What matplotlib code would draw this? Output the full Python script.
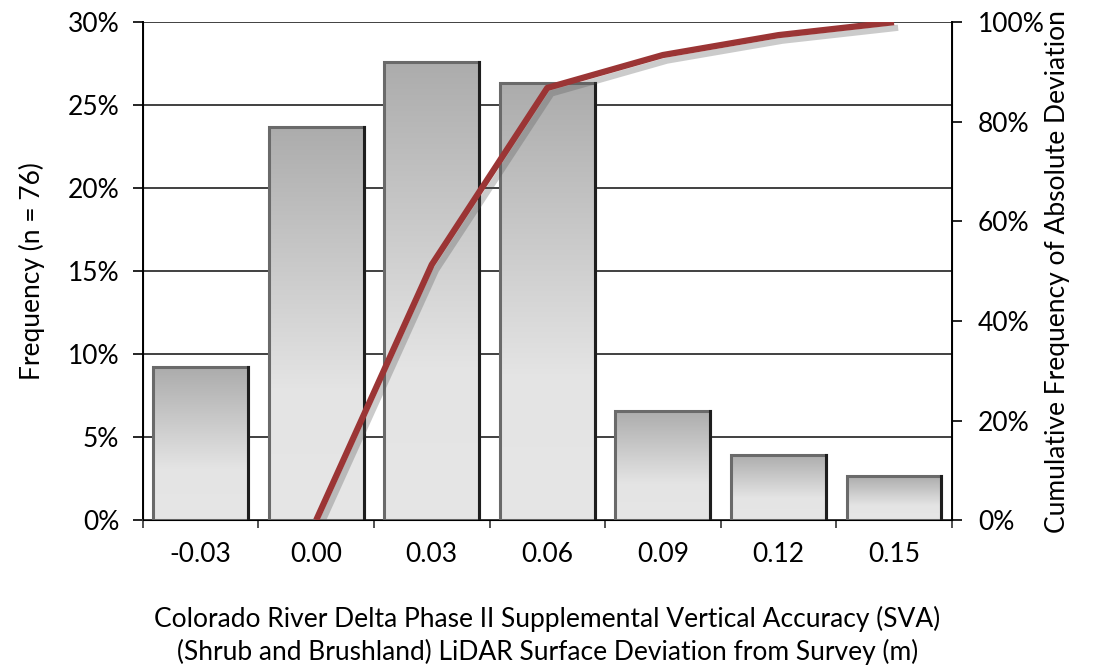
import numpy as np
import matplotlib
matplotlib.use("Agg")
import matplotlib.pyplot as plt
import matplotlib.patheffects as pe
from matplotlib.colors import LinearSegmentedColormap
from matplotlib.ticker import FuncFormatter, MultipleLocator

# data
categories = ["-0.03", "0.00", "0.03", "0.06", "0.09", "0.12", "0.15"]
frequency = [9.21, 23.68, 27.63, 26.32, 6.58, 3.95, 2.63]  # percent
cum_labels = ["0.00", "0.03", "0.06", "0.09", "0.12", "0.15"]
cumulative = [0.0, 51.3, 86.8, 93.4, 97.4, 100.0]  # percent

plt.rcParams['font.family'] = ['Lato', 'DejaVu Sans']

fig = plt.figure(figsize=(10.99, 6.72), dpi=100)
ax1 = fig.add_axes([0.130, 0.226, 0.736, 0.741])

x = np.arange(len(categories))
width = 0.82
bars = ax1.bar(x, frequency, width=width, color="none", edgecolor="none", zorder=3)

# grey gradient fill inside each bar
cmap = LinearSegmentedColormap.from_list("g", ["#e6e6e6", "#e4e4e4", "#c8c8c8", "#acacac"])
grad = np.linspace(0, 1, 256).reshape(-1, 1)
for b in bars:
    x0, y0 = b.get_x(), b.get_y()
    w, h = b.get_width(), b.get_height()
    im = ax1.imshow(grad, cmap=cmap, origin="lower", aspect="auto",
                    extent=(x0, x0 + w, y0, y0 + h), zorder=3)
    im.set_clip_path(b)
    ax1.add_patch(plt.Rectangle((x0, y0), w, h, fill=False, edgecolor="#6a6a6a",
                                linewidth=2.2, zorder=4))
    ax1.plot([x0 + w, x0 + w], [y0, y0 + h], color="#1e1e1e", linewidth=2.2, zorder=4)

ax1.set_xlim(-0.5, len(categories) - 0.5)
ax1.set_ylim(0, 30)
ax1.yaxis.set_major_locator(MultipleLocator(5))
ax1.yaxis.set_major_formatter(FuncFormatter(lambda v, p: f"{v:.0f}%"))
ax1.set_xticks(x)
ax1.set_xticklabels(categories)
ax1.set_xticks(np.arange(-0.5, len(categories)), minor=True)
ax1.tick_params(axis="x", which="major", length=0, pad=16, labelsize=19)
ax1.tick_params(axis="x", which="minor", length=6, width=1.2, color="#333333")
ax1.tick_params(axis="y", length=7, width=1.2, labelsize=19, pad=10)
ax1.grid(axis="y", color="#404040", linewidth=1.4, zorder=0)
ax1.set_axisbelow(True)
ax1.spines["top"].set_visible(False)
ax1.spines["left"].set_linewidth(1.4)
ax1.spines["bottom"].set_linewidth(1.4)
ax1.spines["bottom"].set_color("#404040")

ax1.set_ylabel("Frequency (n = 76)", fontsize=19, labelpad=16)
ax1.set_xlabel("Colorado River Delta Phase II Supplemental Vertical Accuracy (SVA)\n"
               "(Shrub and Brushland) LiDAR Surface Deviation from Survey (m)",
               fontsize=19, labelpad=28, linespacing=1.3)

ax2 = ax1.twinx()
ax2.set_ylim(0, 100)
cx = [categories.index(c) for c in cum_labels]
ax2.plot(cx, cumulative, color="#9b3535", linewidth=4.5, solid_capstyle="butt", zorder=5,
         path_effects=[pe.SimpleLineShadow(offset=(3, -4), shadow_color="#555555", alpha=0.3),
                       pe.Normal()])
ax2.yaxis.set_major_locator(MultipleLocator(20))
ax2.yaxis.set_major_formatter(FuncFormatter(lambda v, p: f"{v:.0f}%"))
ax2.tick_params(axis="y", length=7, width=1.2, labelsize=19, pad=12)
ax2.spines["top"].set_visible(False)
ax2.spines["right"].set_linewidth(1.4)
ax2.set_ylabel("Cumulative Frequency of Absolute Deviation", fontsize=19, labelpad=0)

fig.savefig("out.png", dpi=100)
